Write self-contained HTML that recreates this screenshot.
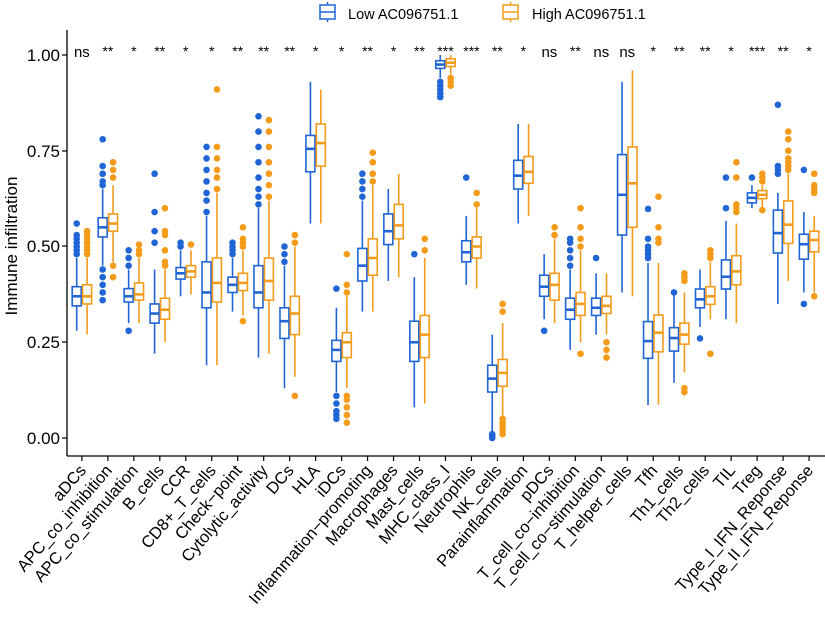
<!DOCTYPE html>
<html><head><meta charset="utf-8"><style>
html,body{margin:0;padding:0;background:#fff;width:825px;height:619px;overflow:hidden}
svg{display:block;font-family:"Liberation Sans",Arial,sans-serif}
</style></head><body>
<svg id="s" width="825" height="619" viewBox="0 0 825 619" xmlns="http://www.w3.org/2000/svg">
<g stroke="#000" stroke-width="1.3" fill="none">
<line x1="67" y1="30" x2="67" y2="456"/>
<line x1="67" y1="456" x2="825" y2="456"/>
</g>
<g font-size="17" text-anchor="end" fill="#000">
<text x="60" y="61">1.00</text><text x="60" y="157">0.75</text><text x="60" y="252">0.50</text><text x="60" y="348">0.25</text><text x="60" y="444">0.00</text>
</g>
<g stroke="#000" stroke-width="1.2"><line x1="62" y1="55" x2="67" y2="55"/><line x1="62" y1="151" x2="67" y2="151"/><line x1="62" y1="246" x2="67" y2="246"/><line x1="62" y1="342" x2="67" y2="342"/><line x1="62" y1="438" x2="67" y2="438"/></g>
<text x="17" y="246" font-size="17" text-anchor="middle" transform="rotate(-90 17 246)">Immune infiltration</text>
<g>
<rect x="320" y="5" width="15" height="14" fill="none" stroke="#1f65d6" stroke-width="1.5"/><line x1="320" y1="12" x2="335" y2="12" stroke="#1f65d6" stroke-width="1.5"/><line x1="327.5" y1="2" x2="327.5" y2="5" stroke="#1f65d6" stroke-width="1.5"/><line x1="327.5" y1="19" x2="327.5" y2="22" stroke="#1f65d6" stroke-width="1.5"/>
<text x="348" y="19" font-size="14.5">Low AC096751.1</text>
<rect x="503" y="5" width="15" height="14" fill="none" stroke="#f49b1a" stroke-width="1.5"/><line x1="503" y1="12" x2="518" y2="12" stroke="#f49b1a" stroke-width="1.5"/><line x1="510.5" y1="2" x2="510.5" y2="5" stroke="#f49b1a" stroke-width="1.5"/><line x1="510.5" y1="19" x2="510.5" y2="22" stroke="#f49b1a" stroke-width="1.5"/>
<text x="532" y="19" font-size="14.5">High AC096751.1</text>
</g>
<g id="plot"></g>
</svg>
<script>
var names=["aDCs","APC_co_inhibition","APC_co_stimulation","B_cells","CCR","CD8+_T_cells","Check−point","Cytolytic_activity","DCs","HLA","iDCs","Inflammation−promoting","Macrophages","Mast_cells","MHC_class_I","Neutrophils","NK_cells","Parainflammation","pDCs","T_cell_co−inhibition","T_cell_co−stimulation","T_helper_cells","Tfh","Th1_cells","Th2_cells","TIL","Treg","Type_I_IFN_Reponse","Type_II_IFN_Reponse"];
var sig=["ns","**","*","**","*","*","**","**","**","*","*","**","*","**","***","***","**","*","ns","**","ns","ns","*","**","**","*","***","**","*"];
var L=[[.345,.37,.395,.28,.47,[.48,.49,.50,.51,.52,.53,.56]],
[.525,.55,.575,.45,.65,[.66,.67,.69,.71,.78,.36,.38,.40,.42,.44]],
[.355,.37,.39,.30,.44,[.45,.47,.49,.28]],
[.30,.325,.35,.22,.44,[.51,.54,.59,.69]],
[.415,.43,.445,.37,.49,[.50,.51]],
[.34,.38,.46,.19,.58,[.59,.62,.64,.67,.70,.73,.76]],
[.38,.40,.42,.33,.47,[.48,.49,.50,.51]],
[.34,.38,.45,.21,.60,[.61,.63,.65,.68,.72,.76,.80,.84]],
[.26,.305,.34,.13,.45,[.46,.48,.50]],
[.695,.755,.79,.56,.93,[]],
[.20,.23,.255,.12,.34,[.05,.06,.07,.09,.11,.39]],
[.41,.45,.495,.33,.62,[.63,.65,.67,.69]],
[.505,.54,.585,.41,.65,[]],
[.20,.25,.305,.08,.42,[.48]],
[.965,.975,.985,.94,1.0,[.89,.90,.91,.92,.93]],
[.46,.485,.515,.40,.58,[.68]],
[.12,.155,.19,.015,.27,[.0,.005,.01]],
[.65,.685,.725,.56,.82,[]],
[.37,.395,.425,.31,.48,[.28]],
[.31,.335,.365,.23,.44,[.45,.47,.49,.51,.52]],
[.32,.34,.365,.27,.43,[.47]],
[.53,.635,.74,.38,.93,[]],
[.208,.253,.304,.086,.457,[.47,.48,.49,.50,.52,.598]],
[.227,.261,.288,.144,.373,[.38]],
[.34,.362,.389,.29,.44,[.26]],
[.389,.421,.465,.31,.567,[.60,.68]],
[.614,.627,.64,.60,.66,[.68]],
[.483,.535,.595,.35,.64,[.69,.70,.71,.87]],
[.467,.506,.532,.38,.59,[.35,.70]]];
var H=[[.35,.37,.40,.27,.47,[.48,.49,.50,.51,.52,.53,.54]],
[.54,.56,.585,.46,.66,[.68,.70,.72,.42,.45]],
[.36,.375,.405,.30,.47,[.48,.49,.505]],
[.31,.335,.365,.25,.44,[.45,.46,.49,.53,.54,.60]],
[.42,.435,.45,.375,.49,[.505]],
[.355,.405,.47,.19,.64,[.65,.68,.70,.73,.76,.91]],
[.385,.405,.43,.32,.49,[.305,.50,.51,.52,.55]],
[.36,.41,.47,.22,.62,[.63,.66,.69,.72,.76,.80,.83]],
[.27,.325,.37,.16,.50,[.51,.53,.11]],
[.71,.77,.82,.56,.91,[]],
[.21,.25,.275,.13,.37,[.04,.06,.08,.10,.11,.38,.40,.48]],
[.425,.47,.52,.33,.66,[.67,.69,.72,.745]],
[.52,.555,.61,.42,.69,[]],
[.21,.27,.32,.09,.47,[.49,.52]],
[.97,.98,.99,.95,1.0,[.92,.93,.94]],
[.47,.50,.525,.39,.60,[.61,.64]],
[.135,.17,.205,.055,.30,[.01,.02,.03,.04,.05,.33,.35]],
[.665,.695,.735,.58,.82,[]],
[.36,.40,.43,.30,.52,[.53,.55]],
[.32,.35,.38,.25,.49,[.22,.50,.52,.55,.60]],
[.325,.345,.37,.27,.43,[.21,.23,.25]],
[.55,.665,.76,.37,.96,[]],
[.225,.275,.321,.087,.457,[.51,.52,.55,.63]],
[.245,.27,.30,.171,.38,[.12,.13,.41,.42,.43]],
[.349,.37,.395,.31,.46,[.22,.47,.48,.49]],
[.40,.435,.476,.30,.56,[.59,.60,.61,.68,.72]],
[.625,.635,.646,.60,.66,[.595,.67,.68,.69]],
[.508,.557,.619,.41,.69,[.70,.71,.72,.73,.75,.78,.80]],
[.486,.517,.54,.38,.58,[.37,.64,.65,.66,.69]]];
function Y(v){return 438-383*v}
var out="",B="#1f65d6",O="#f49b1a";
function box(cx,d,c){
 var s='stroke="'+c+'" stroke-width="1.6"';
 out+='<line x1="'+cx+'" y1="'+Y(d[4])+'" x2="'+cx+'" y2="'+Y(d[2])+'" '+s+'/>';
 out+='<line x1="'+cx+'" y1="'+Y(d[0])+'" x2="'+cx+'" y2="'+Y(d[3])+'" '+s+'/>';
 out+='<rect x="'+(cx-4.5)+'" y="'+Y(d[2])+'" width="9" height="'+(Y(d[0])-Y(d[2]))+'" fill="#fff" '+s+'/>';
 out+='<line x1="'+(cx-4.5)+'" y1="'+Y(d[1])+'" x2="'+(cx+4.5)+'" y2="'+Y(d[1])+'" stroke="'+c+'" stroke-width="2.6"/>';
 d[5].forEach(function(v){out+='<circle cx="'+cx+'" cy="'+Y(v)+'" r="3.3" fill="'+c+'"/>';});
}
for(var i=0;i<29;i++){
 var x=81.9+25.97*i;
 box(x-5.2,L[i],B);box(x+5.2,H[i],O);
 out+='<line x1="'+x+'" y1="456" x2="'+x+'" y2="461" stroke="#000" stroke-width="1.2"/>';
 out+='<text x="'+x+'" y="'+(sig[i]=="ns"?57:56)+'" font-size="'+(sig[i]=="ns"?15:14)+'" text-anchor="middle">'+sig[i]+'</text>';
 out+='<text x="'+(x+5)+'" y="471" font-size="16.5" text-anchor="end" transform="rotate(-49 '+(x+5)+' 471)">'+names[i]+'</text>';
}
document.getElementById("plot").innerHTML=out;
</script>
</body></html>
